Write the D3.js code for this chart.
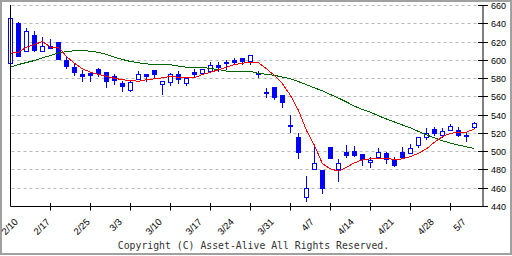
<!DOCTYPE html>
<html><head><meta charset="utf-8">
<script src="https://cdn.jsdelivr.net/npm/d3@7"></script>
<style>body{margin:0;background:#fff}svg{display:block}</style>
</head><body>
<svg id="c" width="512" height="256"></svg>
<script>
// trading days (category axis)
const days = ["2/10","2/12","2/13","2/14","2/17","2/18","2/19","2/20","2/21","2/25","2/26","2/27","2/28",
"3/3","3/4","3/5","3/6","3/7","3/10","3/11","3/12","3/13","3/14","3/17","3/18","3/19","3/21",
"3/24","3/25","3/26","3/27","3/28","3/31","4/1","4/2","4/3","4/4","4/7","4/8","4/9","4/10","4/11",
"4/14","4/15","4/16","4/17","4/18","4/21","4/22","4/23","4/24","4/25","4/28","4/30","5/1","5/2",
"5/7","5/8","5/9"];
const open  = [597,640,610,627,610,615.5,619,600,592,584.5,585.6,590,586.7,582.3,575,566.6,579.3,584.5,589,573.2,576,584,574.3,587,585.2,587.8,594.7,597.3,599.8,601.7,599,586,564.8,570,561.5,529.2,515.8,449.5,480.2,479.4,504.2,480.2,499,499.8,497,487.8,494,498.3,491,499.4,497.7,506.8,515.8,524,517.4,523.2,523.2,517.7,526];
const high  = [647,641,634.5,631.5,624.5,622.5,619.5,603,595,589,586,590.5,587,584.5,577,576.5,587.8,584.8,589.2,577,586,587.8,580,590,589.8,597.6,597.3,599.8,602.3,602,605,588,568.8,570.2,561.7,539.6,519.6,472.8,506.8,479.6,504.5,491,506.8,505.7,497.2,494,503,499,494,504.2,508,516,525,526.8,525,529.8,526,519.6,531.5];
const low   = [597,604,610,610,610,613,601,591.4,583.7,577,577,582.3,570,573,566,566,579,577,579.8,562.6,572.8,574.3,572.4,582.3,585,587.5,587.8,589.6,595.4,595.4,595.4,581.5,559.6,557,548.7,520.7,492.2,445.8,480,453.9,492,467.7,494,495,485,483,493.8,487.4,484,493.5,497.5,505,513,517.7,515.8,523,517,511,525.8];
const close = [646,604.5,631,610.5,615,613.3,601,593,587,582.3,583.7,586,577,578,571.3,576,584.5,582.3,584.5,576.8,584,578.7,579.8,584.8,589.6,594,592.5,596.2,597.6,598.4,604.9,585,563.7,559.6,554.2,528.1,499.4,459.4,487.4,460,492.2,487.4,496,495.5,491,490.3,499.4,491,484.5,494,503,515.2,519.6,519.6,522.4,527.6,517.7,516.6,531.2];
// moving averages
const maShort = [607.8,608.9,614.4,617.3,620.6,614.4,614.4,604.2,596.8,590.7,587,584.5,582.3,580.4,578.7,577.9,577.1,578.7,579.8,580.9,582.3,581.5,580.9,580.9,584.5,587,589.6,592.5,595.4,596.8,597.9,597.3,590.7,583.4,574.3,561.5,545.1,523.2,506.8,486.7,481.3,478.6,483,487.8,491.1,492.2,492.2,492.9,491.1,492.2,494.7,498.3,503.1,510.4,516.6,520.2,521,521.3,525];
const maLong  = [592.5,595.4,597.6,599.8,602.8,605.3,608.2,609.6,610.4,610.7,610,608.6,606.4,603.4,600.9,598.7,597.3,596.2,595.1,595.1,595.1,593.6,592.5,592.5,592.5,591,589.9,588.1,587.4,587.4,587.8,585.6,584.8,583.5,581.7,579.7,576.7,573.3,569.9,566.5,562.5,558.7,554.4,549.8,546.1,543.1,539.3,535.8,532.5,529.2,526.1,522.1,518.3,515.2,511.9,509.4,507.2,505.3,503.5];
const dateLabels = ["2/10","2/17","2/25","3/3","3/10","3/17","3/24","3/31","4/7","4/14","4/21","4/28","5/7"];
const yTicks = [440,460,480,500,520,540,560,580,600,620,640,660];
const tickEvery = 5;
const copyright = "Copyright (C) Asset-Alive All Rights Reserved.";

(function () {
const svg = d3.select("#c");
const x = d3.scalePoint().domain(days).range([10.5, 474.5]);
const y = d3.scaleLinear().domain([440, 660]).range([206.5, 5.5]);
const step = x.step();
const pL = x(days[0]);
const pR = x(days[days.length - 1]) + step + 0.5;
const pB = y(440);
const pT = y(660);
const row = v => Math.round(y(v) - 0.5);

// frame
svg.append("rect").attr("x", 1).attr("y", 1).attr("width", 510).attr("height", 253)
  .attr("fill", "#fff").attr("stroke", "#a0a0a0").attr("stroke-width", 2);

// grid
svg.append("g").selectAll("line").data(yTicks.filter(v => v > 440)).join("line")
  .attr("x1", pL + 1).attr("x2", pR - 5)
  .attr("y1", v => row(v) + 0.5).attr("y2", v => row(v) + 0.5)
  .attr("stroke", "#b8b8b8").attr("stroke-width", 1).attr("stroke-dasharray", "3,3");

// candles
const data = days.map((d, i) => ({d, o: open[i], h: high[i], l: low[i], c: close[i]}));
const cg = svg.append("g");
data.forEach(k => {
  const cx = x(k.d);
  const ht = row(k.h), lb = row(k.l);
  cg.append("rect").attr("x", cx - 0.5).attr("y", ht).attr("width", 1).attr("height", lb - ht + 1).attr("fill", "#0000ff");
  const bt = row(Math.max(k.o, k.c)), bb = row(Math.min(k.o, k.c));
  if (k.c > k.o) {
    cg.append("rect").attr("x", cx - 2).attr("y", bt + 0.5).attr("width", 4).attr("height", Math.max(1, bb - bt))
      .attr("fill", "#fff").attr("stroke", "#0000ff").attr("stroke-width", 1);
  } else {
    cg.append("rect").attr("x", cx - 2.5).attr("y", bt).attr("width", 5).attr("height", Math.max(1, bb - bt + 1))
      .attr("fill", "#0000ff");
  }
});

// moving averages
const line = arr => d3.line().x((d, i) => x(days[i])).y(d => y(d))(arr);
svg.append("path").attr("d", line(maLong)).attr("fill", "none").attr("stroke", "#006400")
  .attr("stroke-width", 1).attr("shape-rendering", "crispEdges");
svg.append("path").attr("d", line(maShort)).attr("fill", "none").attr("stroke", "#ff0000")
  .attr("stroke-width", 1).attr("shape-rendering", "crispEdges");

// axes
const ax = svg.append("g").attr("stroke", "#000").attr("stroke-width", 1);
ax.append("line").attr("x1", pL).attr("x2", pL).attr("y1", pT - 0.5).attr("y2", pB);
ax.append("line").attr("x1", pL).attr("x2", pR).attr("y1", pB).attr("y2", pB);
ax.append("line").attr("x1", pR).attr("x2", pR).attr("y1", pT - 0.5).attr("y2", pB);
ax.selectAll(".yt").data(yTicks).join("line")
  .attr("x1", pR - 5).attr("x2", pR + 5)
  .attr("y1", v => row(v) + 0.5).attr("y2", v => row(v) + 0.5);
ax.selectAll(".xt").data(days.filter((d, i) => i > 0 && i % tickEvery === 0)).join("line")
  .attr("x1", d => x(d)).attr("x2", d => x(d)).attr("y1", pB - 3.5).attr("y2", pB + 4);

svg.append("g").selectAll("text").data(yTicks).join("text")
  .attr("x", pR + 8).attr("y", v => row(v) + 0.5).attr("dy", "0.35em")
  .attr("font-family", "Liberation Sans, Arial, sans-serif").attr("font-size", 9).attr("fill", "#000")
  .text(v => v);

svg.append("g").selectAll("text").data(dateLabels).join("text")
  .attr("transform", d => `translate(${x(d) + 8},${pB + 16}) rotate(-45)`)
  .attr("text-anchor", "end")
  .attr("font-family", "Liberation Sans, Arial, sans-serif").attr("font-size", 9.5).attr("fill", "#000")
  .text(d => d);

svg.append("text").attr("x", 253.5).attr("y", 248.5).attr("text-anchor", "middle")
  .attr("font-family", "DejaVu Sans Mono, monospace").attr("font-size", 9.8).attr("fill", "#333")
  .text(copyright);
})();
</script>
</body></html>
